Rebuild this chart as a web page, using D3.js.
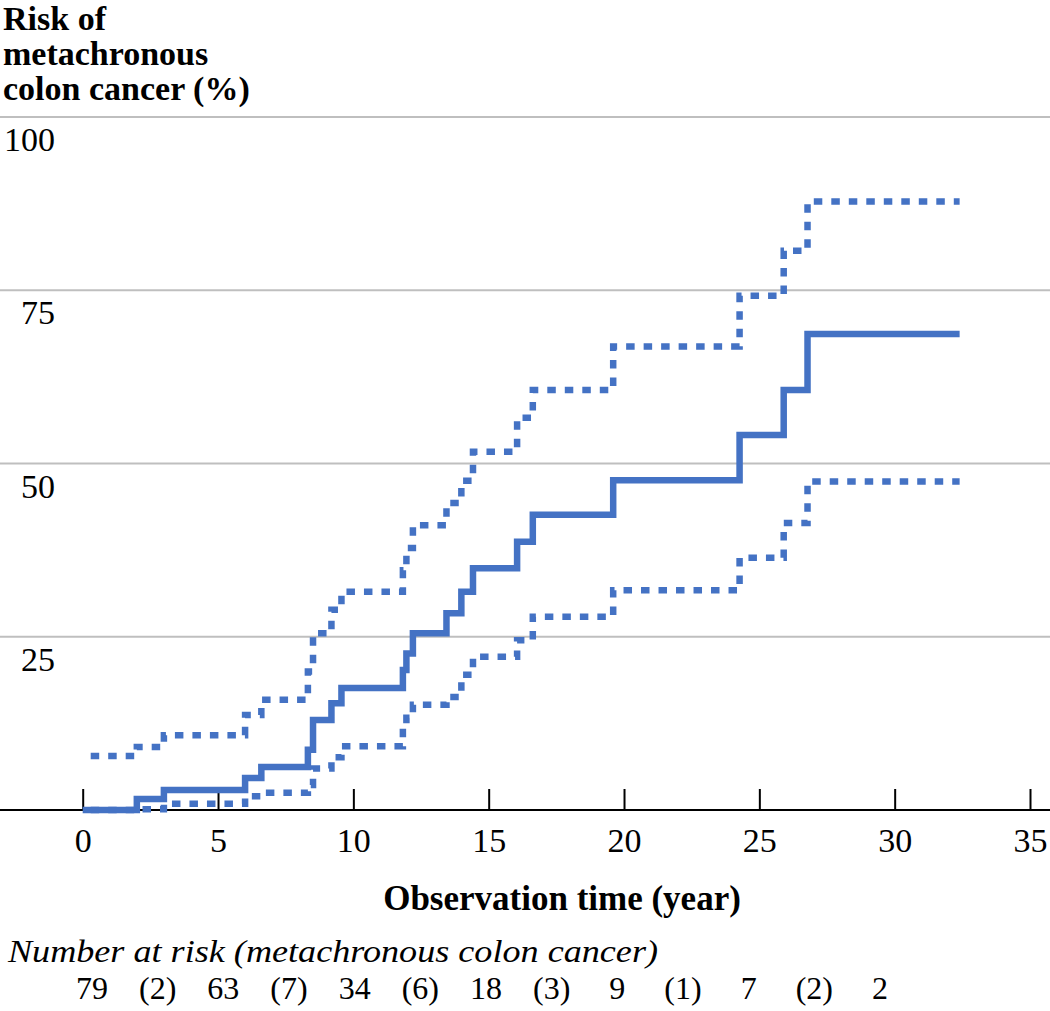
<!DOCTYPE html>
<html>
<head>
<meta charset="utf-8">
<script src="https://cdn.jsdelivr.net/npm/d3@7"></script>
<style>
  html, body { margin: 0; padding: 0; background: #ffffff; }
  svg { display: block; }
  text { font-family: "Liberation Serif", "Times New Roman", serif; fill: #000; }
</style>
</head>
<body>
<svg id="chart" width="1050" height="1011"></svg>
<script>
// ---- data ----
const times = [0, 2.0, 3.0, 6.0, 6.6, 8.32, 8.51, 9.19, 9.56, 11.83, 11.96, 12.2, 13.44, 13.99, 14.42, 16.05, 16.63, 19.6, 24.27, 25.9, 26.78, 32.4];
const risk  = [0, 1.6, 2.9, 4.6, 6.2, 8.7, 13.0, 15.4, 17.6, 20.2, 22.6, 25.5, 28.4, 31.5, 34.9, 38.7, 42.6, 47.6, 54.1, 60.6, 68.7, 68.7];
const upper = [7.8, 9.1, 10.8, 13.7, 15.9, 20.0, 25.5, 28.9, 31.5, 34.6, 37.8, 41.1, 44.3, 47.5, 51.7, 56.6, 60.6, 66.9, 74.2, 80.7, 87.8, 87.8];
const lower = [0, 0.1, 0.9, 2.0, 2.5, 3.6, 6.0, 7.6, 9.2, 12.3, 13.3, 15.2, 16.3, 19.5, 22.1, 24.5, 27.9, 31.7, 36.4, 41.4, 47.4, 47.4];

const xTicks = [0, 5, 10, 15, 20, 25, 30, 35];
const yTicks = [25, 50, 75, 100];
const yTitleLines = ["Risk of", "metachronous", "colon cancer (%)"];
const xTitle = "Observation time (year)";
const riskTitle = "Number at risk (metachronous colon cancer)";
const riskRow = ["79", "(2)", "63", "(7)", "34", "(6)", "18", "(3)", "9", "(1)", "7", "(2)", "2"];

// ---- layout ----
const W = 1050, H = 1011;
const blue = "#4472C4";
const svg = d3.select("#chart");

const x = d3.scaleLinear().domain([0, 35]).range([82.7, 1030]);
const y = d3.scaleLinear().domain([0, 100]).range([810, 117]);

// gridlines
svg.append("g").selectAll("line").data(yTicks).join("line")
  .attr("x1", 0).attr("x2", W)
  .attr("y1", d => y(d)).attr("y2", d => y(d))
  .attr("stroke", "#bfbfbf").attr("stroke-width", 2);

// y tick labels (below gridlines)
svg.append("g").selectAll("text").data(yTicks).join("text")
  .attr("x", 55).attr("y", d => y(d) + 34)
  .attr("text-anchor", "end")
  .style("font-size", "34px")
  .text(d => d);

// x axis
const xAxis = d3.axisBottom(x).tickValues(xTicks).tickSizeInner(-21).tickSizeOuter(0).tickPadding(0);
const gx = svg.append("g").attr("transform", `translate(0,${y(0)})`).call(xAxis);
gx.select(".domain").remove();
gx.selectAll(".tick line").attr("stroke", "#000").attr("stroke-width", 2);
gx.selectAll(".tick text").style("font-size", "34px")
  .style("font-family", "'Liberation Serif', 'Times New Roman', serif")
  .attr("fill", "#000").attr("dy", null).attr("y", 42);
svg.append("line").attr("x1", 0).attr("x2", W).attr("y1", y(0)).attr("y2", y(0))
  .attr("stroke", "#000").attr("stroke-width", 2);

// curves
const mk = vals => times.map((t, i) => [t, vals[i]]);
const line = d3.line().x(d => x(d[0])).y(d => y(d[1])).curve(d3.curveStepAfter);

svg.append("path").datum(mk(lower)).attr("d", line)
  .attr("fill", "none").attr("stroke", blue).attr("stroke-width", 6.5)
  .attr("stroke-dasharray", "8.5,9").attr("stroke-dashoffset", 9.5);
svg.append("path").datum(mk(upper)).attr("d", line)
  .attr("fill", "none").attr("stroke", blue).attr("stroke-width", 6.5)
  .attr("stroke-dasharray", "8.5,9").attr("stroke-dashoffset", 9.5);
svg.append("path").datum(mk(risk)).attr("d", line)
  .attr("fill", "none").attr("stroke", blue).attr("stroke-width", 6.5);

// y title (one text block, three lines)
const yt = svg.append("text").attr("x", 3).attr("y", 30)
  .style("font-size", "34px").style("font-weight", "bold");
yt.selectAll("tspan").data(yTitleLines).join("tspan")
  .attr("x", 3).attr("dy", (d, i) => i === 0 ? 0 : 35)
  .text(d => d);

// x title
svg.append("text").attr("x", 562).attr("y", 910).attr("text-anchor", "middle")
  .style("font-size", "35px").style("font-weight", "bold").text(xTitle);

// number at risk
svg.append("text").attr("x", 8).attr("y", 962)
  .style("font-size", "31px").style("font-style", "italic")
  .attr("textLength", 650).attr("lengthAdjust", "spacingAndGlyphs")
  .text(riskTitle);

const rx = d3.scalePoint().domain(d3.range(riskRow.length)).range([92, 880]);
svg.append("g").selectAll("text").data(riskRow).join("text")
  .attr("x", (d, i) => rx(i)).attr("y", 999).attr("text-anchor", "middle")
  .style("font-size", "32px").text(d => d);
</script>
</body>
</html>
